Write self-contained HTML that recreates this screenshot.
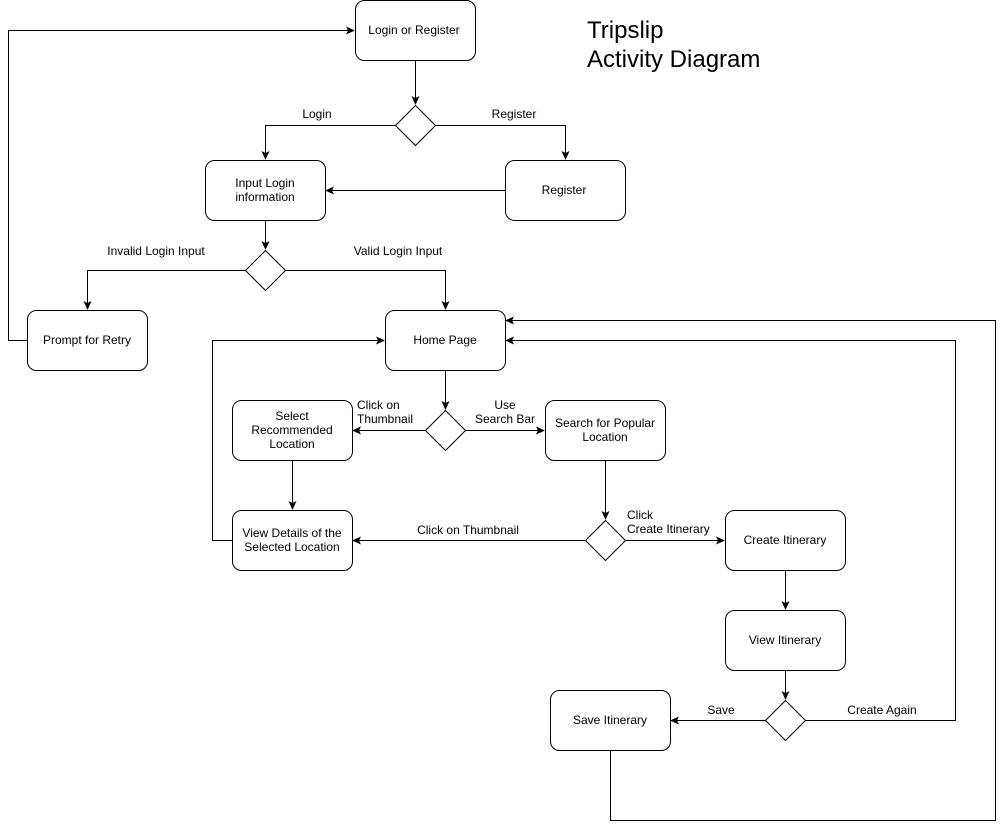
<!DOCTYPE html>
<html><head><meta charset="utf-8"><style>
html,body{margin:0;padding:0;background:#fff;}
svg{display:block;font-family:"Liberation Sans",Arial,sans-serif;}
text{font-size:12px;fill:#000;}
.b{fill:#fff;stroke:#000;stroke-width:1;}
.l{fill:none;stroke:#000;stroke-width:1;}
</style></head><body>
<svg width="1005" height="830" viewBox="0 0 1005 830" xmlns="http://www.w3.org/2000/svg">
<defs><marker id="a" markerWidth="10" markerHeight="10" refX="8" refY="4" orient="auto" markerUnits="userSpaceOnUse"><path d="M0,0 L9,4 L0,8 L2,4 Z" fill="#000"/></marker></defs>

<g class="l" marker-end="url(#a)">
<path d="M415.5,60 V104"/>
<path d="M395,125.5 H265.5 V159"/>
<path d="M435,125.5 H565.5 V159"/>
<path d="M505,190.5 H326"/>
<path d="M265.5,220 V249"/>
<path d="M245,270.5 H87.5 V309"/>
<path d="M285,270.5 H445.5 V309"/>
<path d="M27,340.5 H8.5 V30.5 H354"/>
<path d="M445.5,370 V409"/>
<path d="M425,430.5 H353"/>
<path d="M465,430.5 H544"/>
<path d="M292.5,460 V509"/>
<path d="M232,540.5 H212.5 V340.5 H384"/>
<path d="M605.5,460 V519"/>
<path d="M585,540.5 H353"/>
<path d="M625,540.5 H724"/>
<path d="M785.5,570 V609"/>
<path d="M785.5,670 V699"/>
<path d="M765,720.5 H671"/>
<path d="M805,720.5 H955.5 V340.5 H506"/>
<path d="M610.5,750 V820.5 H995.5 V320.5 H506"/>
</g>

<rect class="b" x="355.5" y="0.5" width="120" height="60" rx="9"/>
<rect class="b" x="205.5" y="160.5" width="120" height="60" rx="9"/>
<rect class="b" x="505.5" y="160.5" width="120" height="60" rx="9"/>
<rect class="b" x="27.5" y="310.5" width="120" height="60" rx="9"/>
<rect class="b" x="385.5" y="310.5" width="120" height="60" rx="9"/>
<rect class="b" x="232.5" y="400.5" width="120" height="60" rx="9"/>
<rect class="b" x="545.5" y="400.5" width="120" height="60" rx="9"/>
<rect class="b" x="232.5" y="510.5" width="120" height="60" rx="9"/>
<rect class="b" x="725.5" y="510.5" width="120" height="60" rx="9"/>
<rect class="b" x="725.5" y="610.5" width="120" height="60" rx="9"/>
<rect class="b" x="550.5" y="690.5" width="120" height="60" rx="9"/>

<path class="b" d="M415.5,105.5 L435.5,125.5 L415.5,145.5 L395.5,125.5 Z"/>
<path class="b" d="M265.5,250.5 L285.5,270.5 L265.5,290.5 L245.5,270.5 Z"/>
<path class="b" d="M445.5,410.5 L465.5,430.5 L445.5,450.5 L425.5,430.5 Z"/>
<path class="b" d="M605.5,520.5 L625.5,540.5 L605.5,560.5 L585.5,540.5 Z"/>
<path class="b" d="M785.5,700.5 L805.5,720.5 L785.5,740.5 L765.5,720.5 Z"/>

<g text-anchor="middle">
<text x="414" y="34">Login or Register</text>
<text x="265" y="187">Input Login</text>
<text x="265" y="201">information</text>
<text x="564" y="194">Register</text>
<text x="87" y="344">Prompt for Retry</text>
<text x="445" y="344">Home Page</text>
<text x="292" y="420">Select</text>
<text x="292" y="434">Recommended</text>
<text x="292" y="448">Location</text>
<text x="605" y="427">Search for Popular</text>
<text x="605" y="441">Location</text>
<text x="292" y="537">View Details of the</text>
<text x="292" y="551">Selected Location</text>
<text x="785" y="544">Create Itinerary</text>
<text x="785" y="644">View Itinerary</text>
<text x="610" y="724">Save Itinerary</text>
<text x="317" y="118">Login</text>
<text x="514" y="118">Register</text>
<text x="156" y="255">Invalid Login Input</text>
<text x="398" y="255">Valid Login Input</text>
<text x="505" y="409">Use</text>
<text x="505" y="423">Search Bar</text>
<text x="468" y="534">Click on Thumbnail</text>
<text x="721" y="714">Save</text>
<text x="882" y="714">Create Again</text>
</g>
<text x="357" y="409">Click on</text>
<text x="357" y="423">Thumbnail</text>
<text x="627" y="519">Click</text>
<text x="627" y="533">Create Itinerary</text>

<text x="587" y="38" style="font-size:24px">Tripslip</text>
<text x="587" y="67" style="font-size:24px">Activity Diagram</text>
</svg>
</body></html>
